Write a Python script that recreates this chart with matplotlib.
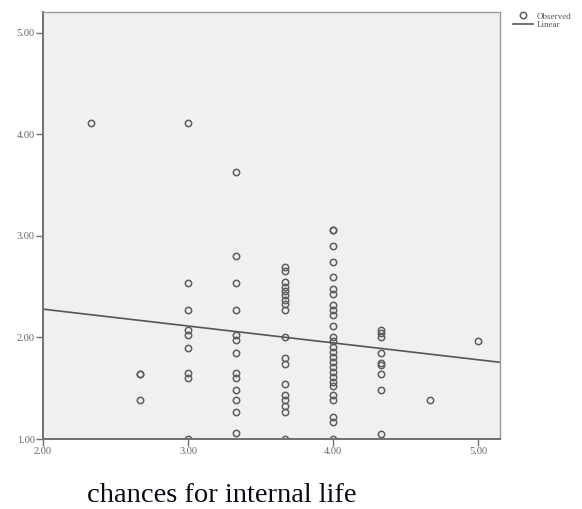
import numpy as np
import matplotlib
matplotlib.use("Agg")
import matplotlib.pyplot as plt

# x levels (chances for internal life) and the observed values at each level
x_levels = [2.33, 2.67, 3.00, 3.33, 3.67, 4.00, 4.33, 4.67, 5.00]
y_233 = [4.11]
y_267 = [1.64, 1.64, 1.38]
y_300 = [4.11, 2.54, 2.27, 2.07, 2.02, 1.90, 1.65, 1.60, 1.00]
y_333 = [3.63, 2.80, 2.54, 2.27, 2.02, 1.97, 1.85, 1.65, 1.60, 1.48, 1.38,
         1.27, 1.06]
y_367 = [2.69, 2.65, 2.55, 2.50, 2.46, 2.42, 2.37, 2.33, 2.27, 2.00, 1.80,
         1.74, 1.54, 1.43, 1.38, 1.32, 1.27, 1.00]
y_400 = [3.06, 3.06, 2.90, 2.74, 2.59, 2.48, 2.43, 2.32, 2.27, 2.22, 2.11,
         2.00, 1.96, 1.91, 1.86, 1.81, 1.76, 1.71, 1.66, 1.61, 1.56, 1.52,
         1.43, 1.38, 1.22, 1.17, 1.00]
y_433 = [2.07, 2.04, 2.00, 1.85, 1.75, 1.73, 1.64, 1.48, 1.05]
y_467 = [1.38]
y_500 = [1.96]

# linear fit
fit_intercept = 2.61
fit_slope = -0.166

x_ticks = [2.0, 3.0, 4.0, 5.0]
x_tick_labels = ["2.00", "3.00", "4.00", "5.00"]
y_ticks = [1.0, 2.0, 3.0, 4.0, 5.0]
y_tick_labels = ["1.00", "2.00", "3.00", "4.00", "5.00"]
x_label = "chances for internal life"


def main():
    groups = [y_233, y_267, y_300, y_333, y_367, y_400, y_433, y_467, y_500]
    xs = np.concatenate([[x] * len(g) for x, g in zip(x_levels, groups)])
    ys = np.concatenate(groups)

    fig = plt.figure(figsize=(5.82, 5.09), dpi=100)
    ax = fig.add_axes([0.0739, 0.1375, 0.785, 0.8385])
    ax.set_facecolor("#f0f0f0")

    ax.plot(xs, ys, linestyle="none", marker="o", ms=4.6, mfc="none",
            mec="#5e5e5e", mew=1.1, label="Observed")

    xlim = (2.0, 5.15)
    line_x = np.array(xlim)
    ax.plot(line_x, fit_intercept + fit_slope * line_x, color="#555555",
            lw=1.2, label="Linear")

    ax.set_xlim(*xlim)
    ax.set_ylim(1.0, 5.2)
    ax.set_xticks(x_ticks)
    ax.set_xticklabels(x_tick_labels)
    ax.set_yticks(y_ticks)
    ax.set_yticklabels(y_tick_labels)
    ax.tick_params(direction="out", length=5, width=1.0, color="#707070",
                   labelsize=7.5, labelcolor="#666666", pad=1)
    for lab in ax.get_xticklabels() + ax.get_yticklabels():
        lab.set_family("Liberation Serif")

    for side in ["left", "bottom"]:
        ax.spines[side].set_color("#707070")
        ax.spines[side].set_linewidth(1.4)
    for side in ["top", "right"]:
        ax.spines[side].set_color("#9a9a9a")
        ax.spines[side].set_linewidth(1.0)

    leg = ax.legend(loc="upper left", bbox_to_anchor=(1.028, 1.0),
                    frameon=False, fontsize=6.5, handlelength=2.2,
                    handletextpad=0.5, labelspacing=0.05, borderaxespad=0,
                    borderpad=0)
    for t in leg.get_texts():
        t.set_family("Liberation Serif")
        t.set_color("#555555")

    fig.text(0.381, 0.0275, x_label, ha="center", va="center",
             fontsize=20.5, family="Liberation Serif", color="#0a0a14")

    fig.savefig("out.png", dpi=100)


if __name__ == "__main__":
    main()
